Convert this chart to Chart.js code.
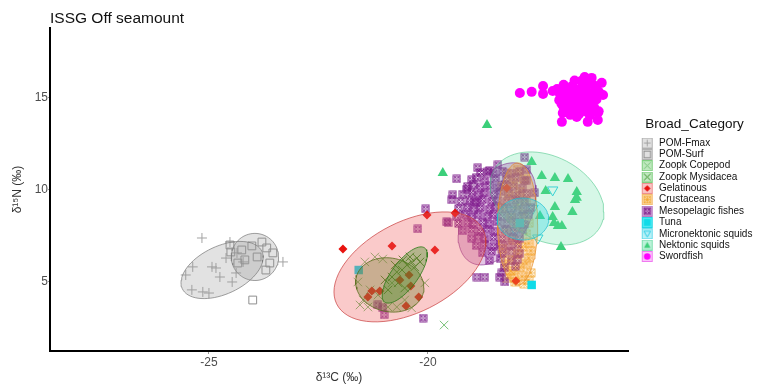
<!DOCTYPE html>
<html>
<head>
<meta charset="utf-8">
<script src="https://cdn.jsdelivr.net/npm/chart.js@4.4.1/dist/chart.umd.min.js"></script>
<style>
  html, body { margin: 0; padding: 0; background: #fff; }
</style>
</head>
<body>
<canvas id="isoChart" width="761" height="390"></canvas>
<script>
const chartTitle = 'ISSG Off seamount';
const xTitle = 'δ¹³C (‰)';
const yTitle = 'δ¹⁵N (‰)';
const xTicks = [-25, -20];
const yTicks = [5, 10, 15];

const categories = ['POM-Fmax', 'POM-Surf', 'Zoopk Copepod', 'Zoopk Mysidacea', 'Gelatinous',
  'Crustaceans', 'Mesopelagic fishes', 'Tuna', 'Micronektonic squids', 'Nektonic squids', 'Swordfish'];

// [d13C, d15N]
const pomFmax = [[-25.16,7.39],[-25.37,5.82],[-24.93,5.82],[-24.84,5.76],[-24.75,5.27],[-24.47,5.00],
  [-24.38,5.49],[-25.39,4.57],[-25.14,4.46],[-25.00,4.40],[-23.31,6.09],[-24.52,7.17],[-24.36,6.58],
  [-25.53,5.38],[-24.22,6.09],[-24.61,6.30]];
const pomSurf = [[-24.52,7.01],[-24.50,6.63],[-24.25,6.74],[-24.02,6.96],[-23.79,7.17],[-23.68,6.85],
  [-23.54,6.58],[-24.34,6.03],[-24.18,6.20],[-23.90,6.36],[-23.61,6.03],[-24.00,4.02],[-23.70,5.65]];
const copepod = [[-21.44,6.09],[-21.21,6.36],[-21.03,6.25],[-21.48,4.02],[-21.55,3.75],[-21.37,3.64],
  [-20.91,3.64],[-20.71,3.64],[-20.37,3.59],[-20.82,4.95],[-20.07,4.95],[-19.63,2.66],[-21.60,5.00],
  [-21.14,4.29],[-20.53,4.02],[-21.32,4.57]];
const mysidacea = [[-20.82,5.27],[-20.71,5.54],[-20.59,5.65],[-20.48,5.92],[-20.37,6.09],[-20.25,6.30],
  [-20.18,6.09],[-20.41,6.36],[-20.68,4.95],[-20.53,4.67],[-20.91,4.57],[-20.30,5.82],[-20.57,6.20],
  [-20.75,5.92],[-20.98,5.11]];
const gelatinous = [[-21.94,6.79],[-20.82,6.96],[-20.02,8.64],[-19.84,6.74],[-21.28,4.51],[-21.37,4.18],
  [-21.10,4.51],[-20.64,5.11],[-20.43,5.38],[-20.39,4.78],[-20.21,4.18],[-20.50,3.70],[-19.38,8.75],
  [-17.99,5.05],[-18.20,10.11]];
const crustaceans = [[-18.2,5.2],[-18.0,5.0],[-17.85,5.3],[-17.7,5.1],[-17.65,5.5],[-18.1,5.6],[-17.9,5.8],
  [-17.75,6.0],[-18.15,6.2],[-17.7,6.3],[-17.95,6.5],[-18.3,6.8],[-17.85,6.9],[-17.7,7.1],[-18.05,7.3],
  [-17.75,7.6],[-18.2,7.8],[-17.95,8.0],[-17.7,8.2],[-18.1,8.5],[-17.8,8.7],[-18.3,9.0],[-17.95,9.2],
  [-17.75,9.4],[-18.15,9.7],[-17.9,9.9],[-18.3,10.2],[-18.05,10.4],[-17.8,10.6],[-18.2,10.9],[-17.95,11.1],
  [-18.05,5.45],[-17.8,4.9],[-18.25,5.9],[-17.65,6.7]];
const mesopelagic = [[-20.05,8.97],[-19.54,8.21],[-20.23,7.88],[-18.88,5.27],[-18.70,5.27],[-18.36,5.27],
  [-18.24,5.00],[-18.31,5.49],[-20.11,3.04],[-21.14,3.75],[-21.03,3.59],[-21.00,3.21],[-19.34,10.60],
  [-19.11,10.05],[-19.43,9.73],[-19.45,9.46],[-19.57,8.26],[-18.93,9.35],[-18.86,11.20],[-18.63,10.98],
  [-18.40,11.36],[-17.79,11.79],[-17.74,11.09],[-17.74,10.54],[-17.56,9.84],
  [-18.8,10.95],[-18.6,11.05],[-18.5,10.88],[-18.3,11.02],[-18.1,10.92],[-17.9,11.0],
  [-19.0,10.55],[-18.9,10.68],[-18.7,10.5],[-18.45,10.62],[-18.2,10.57],[-18.0,10.66],[-17.8,10.52],
  [-19.1,10.18],[-18.95,10.27],[-18.8,10.12],[-18.6,10.24],[-18.4,10.15],[-18.25,10.3],[-18.05,10.2],[-17.85,10.1],
  [-19.2,9.78],[-19.0,9.86],[-18.85,9.72],[-18.7,9.84],[-18.5,9.76],[-18.35,9.9],[-18.15,9.8],[-17.95,9.7],[-17.75,9.82],
  [-19.25,9.38],[-19.05,9.45],[-18.9,9.32],[-18.75,9.48],[-18.55,9.36],[-18.4,9.44],[-18.2,9.35],[-18.0,9.47],[-17.8,9.38],
  [-19.3,8.98],[-19.1,9.06],[-18.95,8.92],[-18.8,9.04],[-18.6,8.95],[-18.45,9.08],[-18.25,8.97],[-18.05,9.02],[-17.85,8.93],[-17.65,9.05],
  [-19.35,8.58],[-19.15,8.66],[-19.0,8.52],[-18.85,8.64],[-18.65,8.55],[-18.5,8.68],[-18.3,8.57],[-18.1,8.62],[-17.9,8.54],[-17.7,8.65],
  [-19.3,8.18],[-19.1,8.25],[-18.95,8.12],[-18.75,8.24],[-18.6,8.15],[-18.4,8.27],[-18.2,8.16],[-18.0,8.22],[-17.8,8.13],
  [-19.2,7.78],[-19.0,7.85],[-18.8,7.74],[-18.65,7.86],[-18.45,7.76],[-18.25,7.84],[-18.05,7.75],[-17.85,7.83],
  [-19.0,7.38],[-18.85,7.45],[-18.7,7.34],[-18.5,7.42],[-18.3,7.36],[-18.1,7.44],[-17.9,7.35],
  [-18.9,6.98],[-18.7,7.05],[-18.5,6.94],[-18.35,7.03],[-18.15,6.96],[-17.95,7.04],
  [-18.75,6.58],[-18.55,6.66],[-18.3,6.55],[-18.1,6.64],[-17.9,6.57],
  [-18.6,6.18],[-18.35,6.26],[-18.1,6.15],[-17.95,6.24],[-18.25,5.78],[-18.0,5.85]];
const tuna = [[-21.58,5.65],[-17.63,4.84],[-17.9,8.2]];
const microSquids = [[-17.15,10.0],[-17.49,7.39],[-17.8,8.6],[-18.1,8.9],[-17.6,9.0],[-18.0,7.8],[-17.9,9.4]];
const nektSquids = [[-19.66,10.92],[-18.65,13.53],[-17.63,11.52],[-17.40,10.76],[-17.10,10.65],[-16.80,10.60],
  [-17.31,9.95],[-16.60,9.89],[-16.64,9.46],[-16.60,9.57],[-17.10,9.08],[-16.70,8.80],[-17.44,8.59],
  [-17.15,8.53],[-17.12,8.21],[-17.03,8.04],[-16.94,8.04],[-16.96,6.90]];
const swordfish = [[-17.90,15.27],[-17.63,15.33],[-17.37,15.65],[-17.37,15.22],[-17.15,15.38],[-16.42,16.14],
  [-16.26,16.09],[-16.03,15.82],[-16.00,15.16],[-16.94,13.70],[-16.60,13.97],[-16.35,13.70],[-16.12,13.80],
  [-16.92,14.18],[-16.12,14.18],
  [-16.5,15.92],[-16.3,15.86],[-16.65,15.95],
  [-16.9,15.72],[-16.7,15.66],[-16.45,15.74],[-16.2,15.68],
  [-17.05,15.48],[-16.85,15.55],[-16.6,15.46],[-16.4,15.53],[-16.15,15.47],
  [-17.0,15.28],[-16.8,15.34],[-16.65,15.25],[-16.5,15.32],[-16.3,15.27],[-16.1,15.35],
  [-16.95,15.08],[-16.75,15.14],[-16.55,15.05],[-16.35,15.12],[-16.2,15.04],
  [-17.0,14.88],[-16.85,14.95],[-16.7,14.86],[-16.5,14.93],[-16.3,14.84],[-16.15,14.92],
  [-16.95,14.68],[-16.8,14.74],[-16.6,14.65],[-16.45,14.72],[-16.25,14.66],
  [-16.9,14.48],[-16.7,14.54],[-16.5,14.45],[-16.35,14.52],[-16.2,14.46],
  [-16.85,14.28],[-16.6,14.34],[-16.4,14.26],[-16.25,14.32],[-16.1,14.27],
  [-16.75,14.08],[-16.55,14.12],[-16.3,14.05]];

// ellipses (centre, two conjugate semi-axis vectors, data units)
const ellipseCats = ['POM-Fmax', 'POM-Surf', 'Zoopk Copepod', 'Zoopk Mysidacea', 'Gelatinous',
  'Crustaceans', 'Mesopelagic fishes', 'Micronektonic squids', 'Nektonic squids'];
const ellipseCx = [-24.70, -23.95, -20.87, -20.53, -20.41, -17.95, -18.42, -17.83, -17.28];
const ellipseCy = [5.65, 6.36, 4.84, 5.38, 5.82, 8.15, 8.70, 8.42, 9.54];
const ellipseU = [[0.91,1.01],[0.54,0],[0.78,-0.15],[0.457,1.47],[-1.735,-1.36],[0.457,0],[-0.89,-1.14],[0.59,0],[1.30,-0.73]];
const ellipseV = [[0.23,-1.18],[0,1.28],[0,1.47],[0.24,-0.42],[0,2.66],[0,3.32],[0,2.53],[0,1.14],[0,2.42]];

const seriesData = [pomFmax, pomSurf, copepod, mysidacea, gelatinous, crustaceans, mesopelagic,
  tuna, microSquids, nektSquids, swordfish];

const pointColors = ['#a3a3a3', '#8f8f8f', '#79c279', '#3f8f2c', '#e8130f', '#f0a020', '#7a1888',
  '#10dbe8', '#2ccde6', '#3ccf7a', '#ff00ff'];
const keyFill = ['#e0e0e0', '#e0e0e0', '#bfe9bf', '#bfe9bf', '#f9c6c6', '#fcdcae', '#dcb7e3',
  '#4eeaf3', '#b8f1f7', '#bdf2da', '#fbc2fb'];
const keyEdge = ['#b0b0b0', '#b0b0b0', '#7fcf7f', '#7fcf7f', '#ee8f8f', '#f4bb6c', '#b77bc4',
  '#20d8e6', '#69dcec', '#7fe0b0', '#f07af0'];
const symbolKind = ['plus', 'square', 'x', 'x', 'diamond', 'boxstar', 'boxx', 'fsquare', 'tridown', 'tri', 'circle'];

const ellipseFill = ['rgba(150,150,150,0.28)', 'rgba(150,150,150,0.28)', 'rgba(115,125,45,0.36)',
  'rgba(55,140,30,0.36)', 'rgba(240,90,90,0.32)', 'rgba(250,165,60,0.33)', 'rgba(150,50,160,0.28)',
  'rgba(40,215,230,0.33)', 'rgba(90,225,160,0.25)'];
const ellipseEdge = ['rgba(120,120,120,0.7)', 'rgba(120,120,120,0.7)', 'rgba(90,110,30,0.8)',
  'rgba(40,120,20,0.8)', 'rgba(200,60,60,0.7)', 'rgba(230,140,40,0.7)', 'rgba(130,40,140,0.6)',
  'rgba(30,190,210,0.7)', 'rgba(80,200,140,0.6)'];
const ellipseOrder = [3, 3, 1, 0, 2, 2, 2, 1, 2];

function drawSymbol(g, kind, color, cx, cy, h) {
  g.save();
  g.strokeStyle = color; g.fillStyle = color; g.lineWidth = 1;
  g.beginPath();
  if (kind === 'plus') {
    g.moveTo(cx - h, cy); g.lineTo(cx + h, cy); g.moveTo(cx, cy - h); g.lineTo(cx, cy + h); g.stroke();
  } else if (kind === 'square') {
    g.strokeRect(cx - h, cy - h, 2 * h, 2 * h);
  } else if (kind === 'x') {
    g.moveTo(cx - h, cy - h); g.lineTo(cx + h, cy + h); g.moveTo(cx + h, cy - h); g.lineTo(cx - h, cy + h); g.stroke();
  } else if (kind === 'diamond') {
    g.moveTo(cx, cy - h); g.lineTo(cx + h, cy); g.lineTo(cx, cy + h); g.lineTo(cx - h, cy); g.closePath(); g.fill();
  } else if (kind === 'boxstar' || kind === 'boxx') {
    g.lineWidth = kind === 'boxx' ? 0.9 : 0.7;
    g.strokeRect(cx - h, cy - h, 2 * h, 2 * h);
    g.moveTo(cx - h, cy - h); g.lineTo(cx + h, cy + h); g.moveTo(cx + h, cy - h); g.lineTo(cx - h, cy + h);
    if (kind === 'boxstar') { g.moveTo(cx - h, cy); g.lineTo(cx + h, cy); g.moveTo(cx, cy - h); g.lineTo(cx, cy + h); }
    g.stroke();
    if (kind === 'boxx') { g.beginPath(); g.arc(cx, cy, h * 0.75, 0, Math.PI * 2); g.stroke(); }
  } else if (kind === 'fsquare') {
    g.fillRect(cx - h, cy - h, 2 * h, 2 * h);
  } else if (kind === 'tridown') {
    g.moveTo(cx - h, cy - h * 0.8); g.lineTo(cx + h, cy - h * 0.8); g.lineTo(cx, cy + h); g.closePath(); g.stroke();
  } else if (kind === 'tri') {
    g.moveTo(cx - h, cy + h * 0.8); g.lineTo(cx + h, cy + h * 0.8); g.lineTo(cx, cy - h); g.closePath(); g.fill();
  } else if (kind === 'circle') {
    g.arc(cx, cy, h, 0, Math.PI * 2); g.fill();
  }
  g.restore();
}

function makeKey(i) {
  const c = document.createElement('canvas');
  c.width = 24; c.height = 11;
  const g = c.getContext('2d');
  g.fillStyle = keyFill[i]; g.fillRect(12.5, 0.5, 10, 10);
  g.strokeStyle = keyEdge[i]; g.lineWidth = 1; g.strokeRect(12.5, 0.5, 10, 10);
  drawSymbol(g, symbolKind[i], pointColors[i], 17.5, 5.5, 3.3);
  return c;
}

function makeMarker(i, size) {
  const c = document.createElement('canvas');
  c.width = size; c.height = size;
  drawSymbol(c.getContext('2d'), symbolKind[i], pointColors[i], size / 2, size / 2, size / 2 - 1);
  return c;
}

function ellipsePoints(i) {
  const pts = [];
  for (let k = 0; k <= 72; k++) {
    const t = (k / 72) * Math.PI * 2;
    pts.push({
      x: ellipseCx[i] + Math.cos(t) * ellipseU[i][0] + Math.sin(t) * ellipseV[i][0],
      y: ellipseCy[i] + Math.cos(t) * ellipseU[i][1] + Math.sin(t) * ellipseV[i][1]
    });
  }
  return pts;
}

const keyImages = categories.map((c, i) => makeKey(i));

const pointStyles = ['cross', 'rect', 'crossRot', 'crossRot', 'rectRot', makeMarker(5, 10),
  makeMarker(6, 9), 'rect', 'triangle', 'triangle', 'circle'];
const pointRadii = [5, 5.5, 6, 6, 4.5, 4, 4, 6, 6, 6, 5];
const pointFilled = [false, false, false, false, true, false, false, true, false, true, true];
const pointOrder = [20, 19, 15, 14, 10, 13, 12, 11, 16, 17, 18];

const datasets = categories.map((name, i) => ({
  label: name,
  data: seriesData[i].map(p => ({x: p[0], y: p[1]})),
  pointStyle: pointStyles[i],
  pointRadius: pointRadii[i],
  pointRotation: i === 8 ? 180 : 0,
  backgroundColor: pointFilled[i] ? pointColors[i] : 'rgba(0,0,0,0)',
  borderColor: pointColors[i],
  borderWidth: pointFilled[i] ? 0 : 1,
  order: pointOrder[i]
}));

ellipseCats.forEach((name, i) => {
  datasets.push({
    type: 'line',
    label: name + ' ellipse',
    data: ellipsePoints(i),
    fill: 'shape',
    backgroundColor: ellipseFill[i],
    borderColor: ellipseEdge[i],
    borderWidth: 1,
    pointRadius: 0,
    tension: 0,
    order: ellipseOrder[i]
  });
});

const titlePlugin = {
  id: 'plotTitle',
  afterDraw(chart) {
    const ctx = chart.ctx;
    ctx.save();
    ctx.font = '15.5px "Liberation Sans", Arial, sans-serif';
    ctx.fillStyle = '#111';
    ctx.textBaseline = 'alphabetic';
    ctx.fillText(chartTitle, chart.chartArea.left, 23);
    ctx.restore();
  }
};

Chart.defaults.font.family = '"Liberation Sans", Arial, sans-serif';

new Chart(document.getElementById('isoChart'), {
  type: 'scatter',
  data: { datasets: datasets },
  plugins: [titlePlugin],
  options: {
    responsive: false,
    animation: false,
    events: [],
    layout: { padding: { top: 28 } },
    plugins: {
      tooltip: { enabled: false },
      legend: {
        position: 'right',
        align: 'start',
        maxWidth: 133,
        title: {
          display: true,
          text: 'Broad_Category',
          color: '#111',
          font: { size: 13.5 },
          padding: { top: 90, bottom: 2.5 }
        },
        labels: {
          usePointStyle: true,
          pointStyleWidth: 24.7,
          padding: 1.34,
          color: '#111',
          font: { size: 10 },
          filter: item => item.datasetIndex < categories.length,
          sort: (a, b) => a.datasetIndex - b.datasetIndex,
          generateLabels(chart) {
            const items = Chart.defaults.plugins.legend.labels.generateLabels(chart);
            items.forEach(it => {
              if (it.datasetIndex < categories.length) {
                it.pointStyle = keyImages[it.datasetIndex];
                it.rotation = 0;
              }
            });
            return items;
          }
        }
      }
    },
    scales: {
      x: {
        type: 'linear',
        position: 'bottom',
        min: -28.63,
        max: -15.43,
        afterBuildTicks: s => { s.ticks = xTicks.map(v => ({ value: v })); },
        afterFit: s => { s.height = 39; },
        ticks: { color: '#4d4d4d', font: { size: 12 }, padding: 1 },
        grid: { drawOnChartArea: false, drawTicks: true, tickLength: 3, color: '#999' },
        border: { display: true, color: '#000', width: 2 },
        title: { display: true, text: xTitle, color: '#333', font: { size: 12 }, padding: { top: 0, bottom: 5 } }
      },
      y: {
        type: 'linear',
        min: 1.25,
        max: 18.8,
        afterBuildTicks: s => { s.ticks = yTicks.map(v => ({ value: v })); },
        afterFit: s => { s.width = 50; },
        ticks: { color: '#4d4d4d', font: { size: 12 }, padding: 0 },
        grid: { drawOnChartArea: false, drawTicks: true, tickLength: 2, color: '#999' },
        border: { display: true, color: '#000', width: 2 },
        title: { display: true, text: yTitle, color: '#333', font: { size: 12 }, padding: { top: 10, bottom: 0 } }
      }
    }
  }
});
</script>
</body>
</html>
